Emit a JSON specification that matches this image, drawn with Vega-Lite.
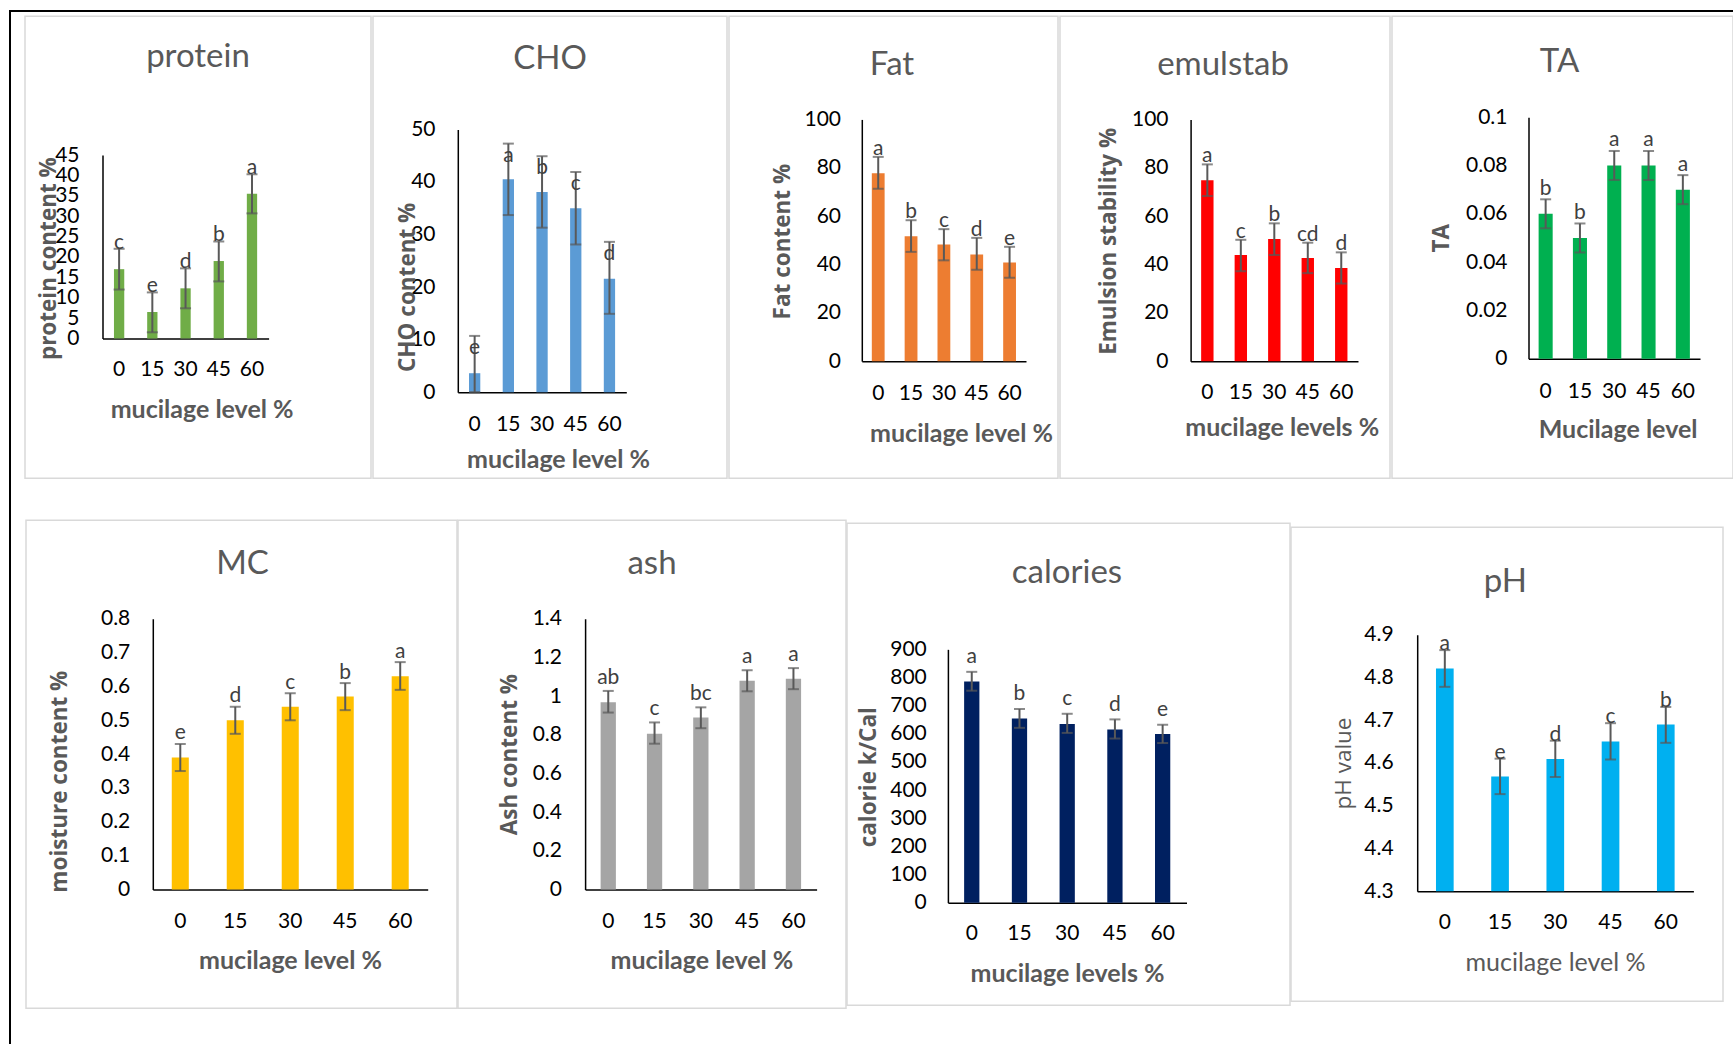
{
"$schema": "https://vega.github.io/schema/vega-lite/v6.json",
"padding": {"left": 9, "top": 10, "right": 0, "bottom": 0},
"autosize": {"type": "pad"},
"background": "white",
"datasets": {"d": [
{"panel":"protein","level":"0","value":17,"lo":12,"hi":22,"letter":"c"},
{"panel":"protein","level":"15","value":6.5,"lo":1.5,"hi":11.3,"letter":"e"},
{"panel":"protein","level":"30","value":12.3,"lo":7.4,"hi":17.2,"letter":"d"},
{"panel":"protein","level":"45","value":19,"lo":14,"hi":23.8,"letter":"b"},
{"panel":"protein","level":"60","value":35.5,"lo":30.7,"hi":40.3,"letter":"a"},
{"panel":"CHO","level":"0","value":3.6,"lo":0,"hi":10.7,"letter":"e"},
{"panel":"CHO","level":"15","value":40.5,"lo":33.7,"hi":47.3,"letter":"a"},
{"panel":"CHO","level":"30","value":38.1,"lo":31.3,"hi":44.9,"letter":"b"},
{"panel":"CHO","level":"45","value":35,"lo":28.1,"hi":41.9,"letter":"c"},
{"panel":"CHO","level":"60","value":21.6,"lo":14.9,"hi":28.6,"letter":"d"},
{"panel":"Fat","level":"0","value":77.7,"lo":71.3,"hi":84.5,"letter":"a"},
{"panel":"Fat","level":"15","value":51.7,"lo":45.2,"hi":58.3,"letter":"b"},
{"panel":"Fat","level":"30","value":48.3,"lo":41.7,"hi":54.6,"letter":"c"},
{"panel":"Fat","level":"45","value":44.1,"lo":37.8,"hi":51,"letter":"d"},
{"panel":"Fat","level":"60","value":40.8,"lo":34.5,"hi":47.3,"letter":"e"},
{"panel":"emulstab","level":"0","value":74.8,"lo":68.3,"hi":81.4,"letter":"a"},
{"panel":"emulstab","level":"15","value":43.9,"lo":37.2,"hi":50.2,"letter":"c"},
{"panel":"emulstab","level":"30","value":50.5,"lo":43.9,"hi":57,"letter":"b"},
{"panel":"emulstab","level":"45","value":42.7,"lo":36.4,"hi":49,"letter":"cd"},
{"panel":"emulstab","level":"60","value":38.5,"lo":32.1,"hi":45,"letter":"d"},
{"panel":"TA","level":"0","value":0.06,"lo":0.054,"hi":0.066,"letter":"b"},
{"panel":"TA","level":"15","value":0.05,"lo":0.044,"hi":0.056,"letter":"b"},
{"panel":"TA","level":"30","value":0.08,"lo":0.074,"hi":0.086,"letter":"a"},
{"panel":"TA","level":"45","value":0.08,"lo":0.074,"hi":0.086,"letter":"a"},
{"panel":"TA","level":"60","value":0.07,"lo":0.064,"hi":0.076,"letter":"a"},
{"panel":"MC","level":"0","value":0.39,"lo":0.35,"hi":0.43,"letter":"e"},
{"panel":"MC","level":"15","value":0.5,"lo":0.46,"hi":0.54,"letter":"d"},
{"panel":"MC","level":"30","value":0.54,"lo":0.5,"hi":0.58,"letter":"c"},
{"panel":"MC","level":"45","value":0.57,"lo":0.53,"hi":0.61,"letter":"b"},
{"panel":"MC","level":"60","value":0.63,"lo":0.59,"hi":0.672,"letter":"a"},
{"panel":"ash","level":"0","value":0.969,"lo":0.915,"hi":1.027,"letter":"ab"},
{"panel":"ash","level":"15","value":0.806,"lo":0.754,"hi":0.864,"letter":"c"},
{"panel":"ash","level":"30","value":0.89,"lo":0.834,"hi":0.942,"letter":"bc"},
{"panel":"ash","level":"45","value":1.079,"lo":1.025,"hi":1.134,"letter":"a"},
{"panel":"ash","level":"60","value":1.09,"lo":1.036,"hi":1.145,"letter":"a"},
{"panel":"calories","level":"0","value":786,"lo":753,"hi":820,"letter":"a"},
{"panel":"calories","level":"15","value":654,"lo":621,"hi":688,"letter":"b"},
{"panel":"calories","level":"30","value":635,"lo":603,"hi":671,"letter":"c"},
{"panel":"calories","level":"45","value":615,"lo":583,"hi":651,"letter":"d"},
{"panel":"calories","level":"60","value":599,"lo":567,"hi":632,"letter":"e"},
{"panel":"pH","level":"0","value":4.821,"lo":4.778,"hi":4.864,"letter":"a"},
{"panel":"pH","level":"15","value":4.568,"lo":4.527,"hi":4.61,"letter":"e"},
{"panel":"pH","level":"30","value":4.609,"lo":4.567,"hi":4.652,"letter":"d"},
{"panel":"pH","level":"45","value":4.65,"lo":4.608,"hi":4.693,"letter":"c"},
{"panel":"pH","level":"60","value":4.69,"lo":4.647,"hi":4.731,"letter":"b"}
]},
"config": {
  "view": {"stroke": "#d9d9d9", "strokeWidth": 1.5},
  "font": "Lato",
  "title": {"font": "Lato", "fontSize": 33, "fontWeight": "normal", "color": "#595959", "anchor": "middle", "frame": "group"},
  "axis": {"grid": false, "ticks": false, "tickSize": 0, "domainColor": "#000000", "domainWidth": 1.5,
           "labelColor": "#000000", "labelFont": "Lato", "labelFontSize": 21, "labelOverlap": false, "labelBound": false, "labelFlush": false,
           "titleColor": "#595959", "titleFont": "Lato", "titleFontWeight": "bold", "titleFontSize": 25, "titleBaseline": "middle", "titleAlign": "center"},
  "axisX": {"labelAngle": 0, "labelBaseline": "middle"},
  "axisY": {"titleFont": "Open Sans", "titleFontSize": 22.5, "titleAngle": 270, "labelBaseline": "middle", "labelAlign": "right", "format": "~f"},
  "text": {"font": "Lato", "fontSize": 21, "color": "#404040"},
  "rule": {"color": "#595959", "strokeWidth": 2},
  "tick": {"color": "#595959", "thickness": 2, "size": 11}
},
"spacing": 0,
"hconcat": [
 {"width": 2, "height": 1034, "data": {"values": []}, "mark": {"type": "point", "opacity": 0}, "view": {"fill": "#000000", "stroke": null}},
 {"spacing": 3, "vconcat": [
  {"width": 1722, "height": 2, "data": {"values": []}, "mark": {"type": "point", "opacity": 0}, "view": {"fill": "#000000", "stroke": null}},
  {"spacing": 40, "vconcat": [
{"hconcat": [
 {"width": 13, "height": 10, "data": {"values": []}, "mark": {"type": "point", "opacity": 0}, "view": {"stroke": null}},
 {"width": 346, "height": 462,
  "title": {"text": "protein", "offset": -58, "dx": 0},
  "data": {"name": "d"}, "transform": [{"filter": "datum.panel === 'protein'"}],
  "encoding": {"x": {"field": "level", "type": "nominal", "sort": ["0","15","30","45","60"],
     "scale": {"range": [77.5, 243.6], "paddingInner": 0, "paddingOuter": 0},
     "axis": {"title": "mucilage level %", "offset": -139.7, "labelPadding": 30.7, "titleX": 176.6, "titleY": 70.7}}},
  "layer": [
   {"mark": {"type": "bar", "color": "#70AD47", "width": {"band": 0.31}},
    "encoding": {"y": {"field": "value", "type": "quantitative", "title": "protein content %",
       "scale": {"domain": [0, 45], "range": [322.3, 139], "nice": false, "zero": false},
       "axis": {"values": [0,5,10,15,20,25,30,35,40,45], "offset": -77.5, "labelPadding": 23.5, "titleX": -54.5, "titleY": 242}},
     "y2": {"datum": 0}}},
   {"mark": "rule", "encoding": {"y": {"field": "lo", "type": "quantitative", "title": "protein content %"}, "y2": {"field": "hi"}}},
   {"mark": "tick", "encoding": {"y": {"field": "lo", "type": "quantitative", "title": "protein content %"}}},
   {"mark": "tick", "encoding": {"y": {"field": "hi", "type": "quantitative", "title": "protein content %"}}},
   {"mark": {"type": "text", "baseline": "alphabetic", "dy": 0}, "encoding": {"y": {"field": "hi", "type": "quantitative", "title": "protein content %"}, "text": {"field": "letter"}}}
  ]},
 {"width": 354, "height": 462,
  "title": {"text": "CHO", "offset": -60, "dx": 0},
  "data": {"name": "d"}, "transform": [{"filter": "datum.panel === 'CHO'"}],
  "encoding": {"x": {"field": "level", "type": "nominal", "sort": ["0","15","30","45","60"],
     "scale": {"range": [84.8, 253.3], "paddingInner": 0, "paddingOuter": 0},
     "axis": {"title": "mucilage level %", "offset": -86, "labelPadding": 32, "titleX": 185, "titleY": 67}}},
  "layer": [
   {"mark": {"type": "bar", "color": "#5B9BD5", "width": {"band": 0.335}},
    "encoding": {"y": {"field": "value", "type": "quantitative", "title": "CHO content %",
       "scale": {"domain": [0, 50], "range": [376, 113.3], "nice": false, "zero": false},
       "axis": {"values": [0,10,20,30,40,50], "offset": -84.8, "labelPadding": 22.8, "titleX": -50.8, "titleY": 270.7}},
     "y2": {"datum": 0}}},
   {"mark": "rule", "encoding": {"y": {"field": "lo", "type": "quantitative", "title": "CHO content %"}, "y2": {"field": "hi"}}},
   {"mark": "tick", "encoding": {"y": {"field": "lo", "type": "quantitative", "title": "CHO content %"}}},
   {"mark": "tick", "encoding": {"y": {"field": "hi", "type": "quantitative", "title": "CHO content %"}}},
   {"mark": {"type": "text", "baseline": "alphabetic", "dy": 18}, "encoding": {"y": {"field": "hi", "type": "quantitative", "title": "CHO content %"}, "text": {"field": "letter"}}}
  ]},
 {"width": 329, "height": 462,
  "title": {"text": "Fat", "offset": -66, "dx": -1.5},
  "data": {"name": "d"}, "transform": [{"filter": "datum.panel === 'Fat'"}],
  "encoding": {"x": {"field": "level", "type": "nominal", "sort": ["0","15","30","45","60"],
     "scale": {"range": [132.8, 297], "paddingInner": 0, "paddingOuter": 0},
     "axis": {"title": "mucilage level %", "offset": -117, "labelPadding": 32, "titleX": 232, "titleY": 72}}},
  "layer": [
   {"mark": {"type": "bar", "color": "#ED7D31", "width": {"band": 0.39}},
    "encoding": {"y": {"field": "value", "type": "quantitative", "title": "Fat content %",
       "scale": {"domain": [0, 100], "range": [345, 103.3], "nice": false, "zero": false},
       "axis": {"values": [0,20,40,60,80,100], "offset": -132.8, "labelPadding": 21.3, "titleX": -79.8, "titleY": 225}},
     "y2": {"datum": 0}}},
   {"mark": "rule", "encoding": {"y": {"field": "lo", "type": "quantitative", "title": "Fat content %"}, "y2": {"field": "hi"}}},
   {"mark": "tick", "encoding": {"y": {"field": "lo", "type": "quantitative", "title": "Fat content %"}}},
   {"mark": "tick", "encoding": {"y": {"field": "hi", "type": "quantitative", "title": "Fat content %"}}},
   {"mark": {"type": "text", "baseline": "alphabetic", "dy": -2}, "encoding": {"y": {"field": "hi", "type": "quantitative", "title": "Fat content %"}, "text": {"field": "letter"}}}
  ]},
 {"width": 330, "height": 462,
  "title": {"text": "emulstab", "offset": -66, "dx": -2},
  "data": {"name": "d"}, "transform": [{"filter": "datum.panel === 'emulstab'"}],
  "encoding": {"x": {"field": "level", "type": "nominal", "sort": ["0","15","30","45","60"],
     "scale": {"range": [130.6, 298], "paddingInner": 0, "paddingOuter": 0},
     "axis": {"title": "mucilage levels %", "offset": -117, "labelPadding": 31.7, "titleX": 221.7, "titleY": 66.7}}},
  "layer": [
   {"mark": {"type": "bar", "color": "#FF0000", "width": {"band": 0.37}},
    "encoding": {"y": {"field": "value", "type": "quantitative", "title": "Emulsion stability %",
       "scale": {"domain": [0, 100], "range": [345, 103.3], "nice": false, "zero": false},
       "axis": {"values": [0,20,40,60,80,100], "offset": -130.6, "labelPadding": 22.6, "titleX": -82, "titleY": 224.7}},
     "y2": {"datum": 0}}},
   {"mark": "rule", "encoding": {"y": {"field": "lo", "type": "quantitative", "title": "Emulsion stability %"}, "y2": {"field": "hi"}}},
   {"mark": "tick", "encoding": {"y": {"field": "lo", "type": "quantitative", "title": "Emulsion stability %"}}},
   {"mark": "tick", "encoding": {"y": {"field": "hi", "type": "quantitative", "title": "Emulsion stability %"}}},
   {"mark": {"type": "text", "baseline": "alphabetic", "dy": -2}, "encoding": {"y": {"field": "hi", "type": "quantitative", "title": "Emulsion stability %"}, "text": {"field": "letter"}}}
  ]},
 {"width": 341, "height": 462,
  "title": {"text": "TA", "offset": -62.7, "dx": -3},
  "data": {"name": "d"}, "transform": [{"filter": "datum.panel === 'TA'"}],
  "encoding": {"x": {"field": "level", "type": "nominal", "sort": ["0","15","30","45","60"],
     "scale": {"range": [136.5, 308], "paddingInner": 0, "paddingOuter": 0},
     "axis": {"title": "Mucilage level", "offset": -119.3, "labelPadding": 32.3, "titleX": 225.6, "titleY": 70.6}}},
  "layer": [
   {"mark": {"type": "bar", "color": "#00B050", "width": {"band": 0.41}},
    "encoding": {"y": {"field": "value", "type": "quantitative", "title": "TA",
       "scale": {"domain": [0, 0.1], "range": [342.7, 101], "nice": false, "zero": false},
       "axis": {"values": [0,0.02,0.04,0.06,0.08,0.1], "offset": -136.5, "labelPadding": 21.5, "titleX": -87.5, "titleY": 221.7}},
     "y2": {"datum": 0}}},
   {"mark": "rule", "encoding": {"y": {"field": "lo", "type": "quantitative", "title": "TA"}, "y2": {"field": "hi"}}},
   {"mark": "tick", "encoding": {"y": {"field": "lo", "type": "quantitative", "title": "TA"}}},
   {"mark": "tick", "encoding": {"y": {"field": "hi", "type": "quantitative", "title": "TA"}}},
   {"mark": {"type": "text", "baseline": "alphabetic", "dy": -4.5}, "encoding": {"y": {"field": "hi", "type": "quantitative", "title": "TA"}, "text": {"field": "letter"}}}
  ]}
 ], "spacing": 0, "center": true},
{"hconcat": [
 {"width": 15, "height": 10, "data": {"values": []}, "mark": {"type": "point", "opacity": 0}, "view": {"stroke": null}},
 {"width": 431, "height": 488,
  "title": {"text": "MC", "offset": -61.2, "dx": 1},
  "data": {"name": "d"}, "transform": [{"filter": "datum.panel === 'MC'"}],
  "encoding": {"x": {"field": "level", "type": "nominal", "sort": ["0","15","30","45","60"],
     "scale": {"range": [126.8, 401.7], "paddingInner": 0, "paddingOuter": 0},
     "axis": {"title": "mucilage level %", "offset": -118.7, "labelPadding": 31.6, "titleX": 264, "titleY": 71.5}}},
  "layer": [
   {"mark": {"type": "bar", "color": "#FFC000", "width": {"band": 0.31}},
    "encoding": {"y": {"field": "value", "type": "quantitative", "title": "moisture content %",
       "scale": {"domain": [0, 0.8], "range": [369.3, 98.7], "nice": false, "zero": false},
       "axis": {"values": [0,0.1,0.2,0.3,0.4,0.5,0.6,0.7,0.8], "offset": -126.8, "labelPadding": 23, "titleX": -93.2, "titleY": 261}},
     "y2": {"datum": 0}}},
   {"mark": "rule", "encoding": {"y": {"field": "lo", "type": "quantitative", "title": "moisture content %"}, "y2": {"field": "hi"}}},
   {"mark": "tick", "encoding": {"y": {"field": "lo", "type": "quantitative", "title": "moisture content %"}}},
   {"mark": "tick", "encoding": {"y": {"field": "hi", "type": "quantitative", "title": "moisture content %"}}},
   {"mark": {"type": "text", "baseline": "alphabetic", "dy": -4.5}, "encoding": {"y": {"field": "hi", "type": "quantitative", "title": "moisture content %"}, "text": {"field": "letter"}}}
  ]},
 {"width": 388, "height": 488,
  "title": {"text": "ash", "offset": -61, "dx": 0},
  "data": {"name": "d"}, "transform": [{"filter": "datum.panel === 'ash'"}],
  "encoding": {"x": {"field": "level", "type": "nominal", "sort": ["0","15","30","45","60"],
     "scale": {"range": [127.1, 358.6], "paddingInner": 0, "paddingOuter": 0},
     "axis": {"title": "mucilage level %", "offset": -118.7, "labelPadding": 31.6, "titleX": 243.4, "titleY": 71.5}}},
  "layer": [
   {"mark": {"type": "bar", "color": "#A5A5A5", "width": {"band": 0.33}},
    "encoding": {"y": {"field": "value", "type": "quantitative", "title": "Ash content %",
       "scale": {"domain": [0, 1.4], "range": [369.3, 98.7], "nice": false, "zero": false},
       "axis": {"values": [0,0.2,0.4,0.6,0.8,1,1.2,1.4], "offset": -127.1, "labelPadding": 23.6, "titleX": -75.7, "titleY": 234}},
     "y2": {"datum": 0}}},
   {"mark": "rule", "encoding": {"y": {"field": "lo", "type": "quantitative", "title": "Ash content %"}, "y2": {"field": "hi"}}},
   {"mark": "tick", "encoding": {"y": {"field": "lo", "type": "quantitative", "title": "Ash content %"}}},
   {"mark": "tick", "encoding": {"y": {"field": "hi", "type": "quantitative", "title": "Ash content %"}}},
   {"mark": {"type": "text", "baseline": "alphabetic", "dy": -7}, "encoding": {"y": {"field": "hi", "type": "quantitative", "title": "Ash content %"}, "text": {"field": "letter"}}}
  ]},
 {"width": 443, "height": 482,
  "title": {"text": "calories", "offset": -66.9, "dx": -1.5},
  "data": {"name": "d"}, "transform": [{"filter": "datum.panel === 'calories'"}],
  "encoding": {"x": {"field": "level", "type": "nominal", "sort": ["0","15","30","45","60"],
     "scale": {"range": [100.9, 339.5], "paddingInner": 0, "paddingOuter": 0},
     "axis": {"title": "mucilage levels %", "offset": -102.5, "labelPadding": 31.2, "titleX": 220, "titleY": 71.1}}},
  "layer": [
   {"mark": {"type": "bar", "color": "#002060", "width": {"band": 0.32}},
    "encoding": {"y": {"field": "value", "type": "quantitative", "title": "calorie k/Cal",
       "scale": {"domain": [0, 900], "range": [379.5, 126.2], "nice": false, "zero": false},
       "axis": {"values": [0,100,200,300,400,500,600,700,800,900], "offset": -100.9, "labelPadding": 21.6, "titleX": -79.1, "titleY": 253.6}},
     "y2": {"datum": 0}}},
   {"mark": "rule", "encoding": {"y": {"field": "lo", "type": "quantitative", "title": "calorie k/Cal"}, "y2": {"field": "hi"}}},
   {"mark": "tick", "encoding": {"y": {"field": "lo", "type": "quantitative", "title": "calorie k/Cal"}}},
   {"mark": "tick", "encoding": {"y": {"field": "hi", "type": "quantitative", "title": "calorie k/Cal"}}},
   {"mark": {"type": "text", "baseline": "alphabetic", "dy": -8.5}, "encoding": {"y": {"field": "hi", "type": "quantitative", "title": "calorie k/Cal"}, "text": {"field": "letter"}}}
  ]},
 {"width": 432, "height": 474,
  "title": {"text": "pH", "offset": -72.3, "dx": -1.6},
  "data": {"name": "d"}, "transform": [{"filter": "datum.panel === 'pH'"}],
  "encoding": {"x": {"field": "level", "type": "nominal", "sort": ["0","15","30","45","60"],
     "scale": {"range": [126.2, 402.4], "paddingInner": 0, "paddingOuter": 0},
     "axis": {"title": "mucilage level %", "titleFontWeight": "normal", "offset": -110, "labelPadding": 31.6, "titleX": 264, "titleY": 71.5}}},
  "layer": [
   {"mark": {"type": "bar", "color": "#00B0F0", "width": {"band": 0.32}},
    "encoding": {"y": {"field": "value", "type": "quantitative", "title": "pH value",
       "scale": {"domain": [4.3, 4.9], "range": [364, 107.6], "nice": false, "zero": false},
       "axis": {"values": [4.3,4.4,4.5,4.6,4.7,4.8,4.9], "titleFontWeight": "normal", "offset": -126.2, "labelPadding": 24, "titleX": -74.2, "titleY": 235.9}},
     "y2": {"datum": 4.3}}},
   {"mark": "rule", "encoding": {"y": {"field": "lo", "type": "quantitative", "title": "pH value"}, "y2": {"field": "hi"}}},
   {"mark": "tick", "encoding": {"y": {"field": "lo", "type": "quantitative", "title": "pH value"}}},
   {"mark": "tick", "encoding": {"y": {"field": "hi", "type": "quantitative", "title": "pH value"}}},
   {"mark": {"type": "text", "baseline": "alphabetic", "dy": 0}, "encoding": {"y": {"field": "hi", "type": "quantitative", "title": "pH value"}, "text": {"field": "letter"}}}
  ]}
 ], "spacing": -2, "center": true}
  ]}
 ]}
]
}
